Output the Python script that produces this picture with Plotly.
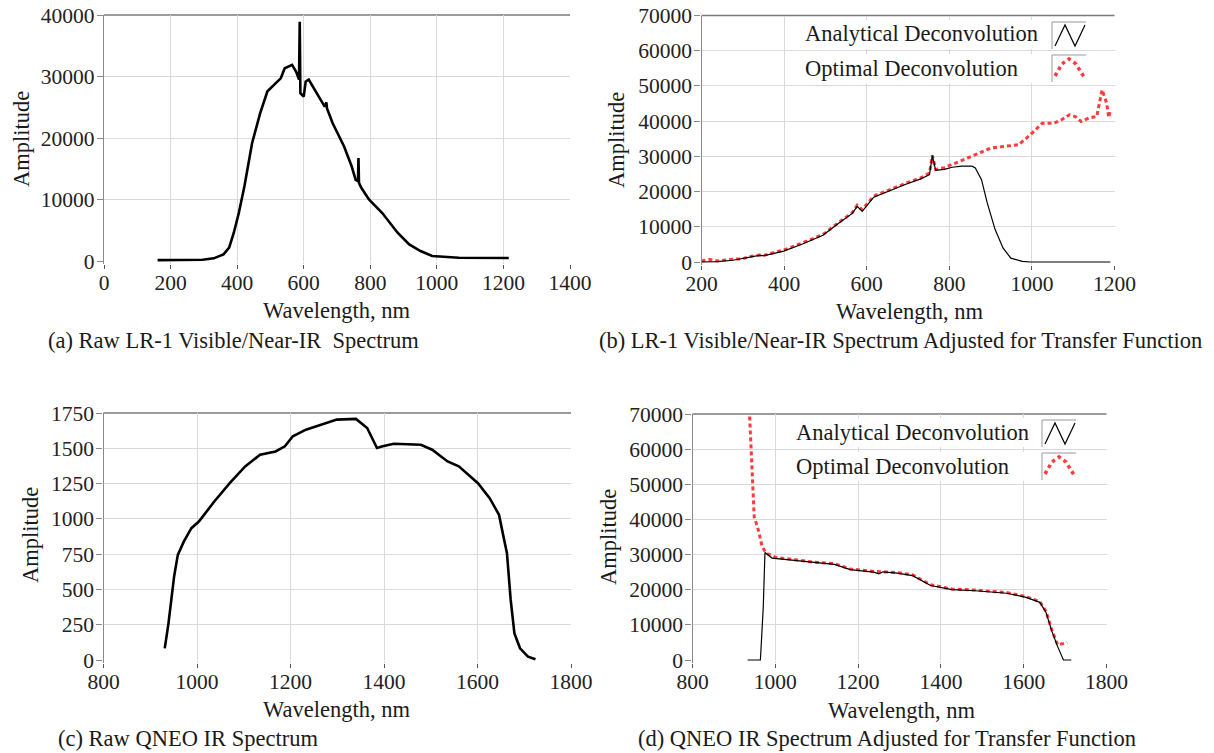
import plotly.graph_objects as go

# ---------------- data ----------------
# (a) Raw LR-1 Visible/Near-IR spectrum
a_wl = [161, 296, 330, 359, 376, 390, 405, 422, 445, 469, 491, 514, 531, 543, 565, 577, 586,
        588, 590, 600, 606, 615, 640, 663, 668, 670, 687, 721, 744, 756, 763, 764.5, 766, 773,
        796, 836, 882, 917, 951, 986, 1020, 1066, 1216]
a_amp = [150, 200, 430, 1080, 2160, 4600, 7800, 12200, 19200, 24000, 27600, 28900, 29700, 31350,
         31900, 30800, 29500, 38900, 27300, 26750, 29200, 29500, 27300, 25100, 25800, 24800, 22400,
         18650, 15400, 13200, 13000, 16750, 12700, 11900, 10000, 7800, 4600, 2700, 1620, 810, 700,
         540, 490]

# (b) LR-1 adjusted for transfer function
b_an_wl = [200, 238, 276, 314, 340, 352, 399, 446, 494, 532, 565, 577, 589, 617, 655, 693, 731,
           752, 759, 767, 788, 807, 830, 855, 863, 878, 892, 911, 930, 949, 977, 996, 1190]
b_an_amp = [0, 100, 500, 1300, 1900, 1800, 3100, 5200, 7600, 11000, 13800, 15800, 14400, 18400,
            20300, 22000, 23600, 24800, 30200, 26000, 26300, 26900, 27200, 27200, 26700, 23400,
            16700, 9200, 4000, 1100, 200, 0, 0]
b_op_wl = [200, 220, 238, 260, 276, 300, 314, 340, 352, 370, 399, 446, 494, 532, 565, 577, 589,
           617, 655, 693, 731, 752, 759, 767, 788, 807, 854, 901, 968, 996, 1025, 1053, 1072,
           1091, 1105, 1119, 1138, 1157, 1170, 1181, 1186, 1190]
b_op_amp = [300, 700, 300, 600, 800, 900, 1500, 2000, 1900, 2500, 3400, 5500, 7800, 11200, 14000,
            16100, 14900, 18700, 20600, 22300, 23900, 25300, 30300, 26300, 26800, 27700, 30000,
            32400, 33300, 36100, 39400, 39400, 40400, 41800, 41300, 39900, 40900, 41300, 48900,
            45100, 41000, 43200]

# (c) Raw QNEO IR spectrum
c_wl = [931, 939, 951, 959, 972, 988, 1004, 1037, 1070, 1103, 1135, 1168, 1188, 1205, 1233, 1266,
        1299, 1340, 1364, 1385, 1397, 1421, 1479, 1503, 1536, 1560, 1601, 1626, 1646, 1654, 1663,
        1671, 1679, 1691, 1708, 1724]
c_amp = [83, 260, 591, 745, 840, 934, 981, 1123, 1253, 1372, 1454, 1478, 1514, 1585, 1632, 1667,
         1703, 1708, 1644, 1502, 1514, 1532, 1525, 1490, 1407, 1372, 1253, 1147, 1029, 899, 757,
         426, 189, 83, 24, 5]

# (d) QNEO IR adjusted for transfer function
d_an_wl = [933, 964, 971, 975, 992, 1049, 1096, 1143, 1181, 1238, 1250, 1260, 1294, 1332, 1375,
           1427, 1483, 1559, 1606, 1639, 1654, 1668, 1682, 1696, 1715]
d_an_amp = [0, 0, 15200, 30600, 29000, 28300, 27600, 27200, 25700, 25000, 24500, 25100, 24700,
            24000, 21200, 20000, 19700, 19000, 17800, 16400, 13500, 8200, 3800, 0, 0]
d_op_wl = [938, 945, 949, 959, 968, 978, 1001, 1049, 1096, 1143, 1181, 1238, 1294, 1332, 1375,
           1427, 1483, 1559, 1606, 1639, 1654, 1668, 1682, 1696, 1705]
d_op_amp = [69300, 53200, 40800, 37000, 32300, 30400, 29200, 28500, 27800, 27400, 25900, 25200,
            24900, 24200, 21400, 20200, 19900, 19200, 18000, 16600, 13800, 8500, 4300, 4700, 5000]

captions = ["(a) Raw LR-1 Visible/Near-IR  Spectrum",
            "(b) LR-1 Visible/Near-IR Spectrum Adjusted for Transfer Function",
            "(c) Raw QNEO IR Spectrum",
            "(d) QNEO IR Spectrum Adjusted for Transfer Function"]
legend_names = ["Analytical Deconvolution", "Optimal Deconvolution"]

# ---------------- layout helpers ----------------
W, H = 1214, 753
FONT = "Liberation Serif, Times New Roman, serif"
RED = "#ff3b3b"


def px(x):
    return x / W


def py(y):
    return 1 - y / H


fig = go.Figure()

panels = [
    dict(k="", xd=(104, 570), yd=(15, 264), xr=[0, 1400], yr=[-488, 40000],
         xt=list(range(0, 1401, 200)), yt=list(range(0, 40001, 10000))),
    dict(k="2", xd=(701.5, 1114.5), yd=(15.5, 265), xr=[200, 1200], yr=[-852, 70000],
         xt=list(range(200, 1201, 200)), yt=list(range(0, 70001, 10000))),
    dict(k="3", xd=(103.5, 571), yd=(413, 663), xr=[800, 1800], yr=[-21, 1750],
         xt=list(range(800, 1801, 200)), yt=list(range(0, 1751, 250))),
    dict(k="4", xd=(692.5, 1106.5), yd=(414, 663), xr=[800, 1800], yr=[-854, 70000],
         xt=list(range(800, 1801, 200)), yt=list(range(0, 70001, 10000))),
]

for p in panels:
    k = p["k"]
    xa = dict(domain=[px(p["xd"][0]), px(p["xd"][1])], range=p["xr"], anchor="y" + k,
              tickvals=p["xt"], tickformat="d", ticks="outside", ticklen=4, tickcolor="#555",
              tickwidth=1, automargin=False, ticklabelstandoff=-5,
              showline=False, showgrid=True, gridcolor="#d9d9d9", gridwidth=1, zeroline=False,
              tickfont=dict(family=FONT, size=21.5, color="#222"), fixedrange=True)
    ya = dict(domain=[py(p["yd"][1]), py(p["yd"][0])], range=p["yr"], anchor="x" + k,
              tickvals=p["yt"], tickformat="d", ticks="outside", ticklen=6, tickcolor="#888",
              tickwidth=1, automargin=False, ticklabelstandoff=-2,
              showline=True, linecolor="#8a8a8a", linewidth=1.2,
              showgrid=True, gridcolor="#d9d9d9", gridwidth=1,
              zeroline=True, zerolinecolor="white", zerolinewidth=1,
              tickfont=dict(family=FONT, size=21.5, color="#222"), fixedrange=True)
    fig.update_layout(**{"xaxis" + k: xa, "yaxis" + k: ya})
    fig.add_shape(type="line", xref="x" + k + " domain", yref="y" + k + " domain",
                  x0=0, x1=1, y0=1, y1=1, line=dict(color="#7a7a7a", width=1.5), layer="below")

fig.add_trace(go.Scatter(x=a_wl, y=a_amp, mode="lines", line=dict(color="black", width=2.6),
                         xaxis="x", yaxis="y", showlegend=False))
fig.add_trace(go.Scatter(x=b_op_wl, y=b_op_amp, mode="lines",
                         line=dict(color=RED, width=3, dash="4px,3px"),
                         xaxis="x2", yaxis="y2", showlegend=False))
fig.add_trace(go.Scatter(x=b_an_wl, y=b_an_amp, mode="lines", line=dict(color="black", width=1.2),
                         xaxis="x2", yaxis="y2", showlegend=False))
fig.add_trace(go.Scatter(x=c_wl, y=c_amp, mode="lines", line=dict(color="black", width=2.6),
                         xaxis="x3", yaxis="y3", showlegend=False))
fig.add_trace(go.Scatter(x=d_op_wl, y=d_op_amp, mode="lines",
                         line=dict(color=RED, width=3, dash="4px,3px"),
                         xaxis="x4", yaxis="y4", showlegend=False))
fig.add_trace(go.Scatter(x=d_an_wl, y=d_an_amp, mode="lines", line=dict(color="black", width=1.2),
                         xaxis="x4", yaxis="y4", showlegend=False))

ann = []
txt = dict(family=FONT, size=22.5, color="#1a1a1a")
for (ax, ay) in [(21, 139), (616, 140), (30, 535), (608, 537)]:
    ann.append(dict(x=px(ax), y=py(ay), xref="paper", yref="paper", text="Amplitude",
                    textangle=-90, showarrow=False, font=txt, xanchor="center", yanchor="middle"))
for (ax, ay) in [(337, 310), (910, 311), (337, 709), (901, 710)]:
    ann.append(dict(x=px(ax), y=py(ay), xref="paper", yref="paper", text="Wavelength, nm",
                    showarrow=False, font=txt, xanchor="center", yanchor="middle"))
for (cx, cy), t in zip([(46, 340), (597, 340), (56, 738), (636, 738)], captions):
    ann.append(dict(x=px(cx), y=py(cy), xref="paper", yref="paper", text=t.replace("  ", "&nbsp; "),
                    showarrow=False, font=dict(family=FONT, size=22.5, color="#1a1a1a"),
                    xanchor="left", yanchor="middle"))

shapes = []
for (lx, r1, r2, ix, iy1, iy2) in [(803, 34, 68, 1052, 22, 55), (794, 432, 466, 1042, 420, 453)]:
    for ry, name in zip((r1, r2), legend_names):
        shapes.append(dict(type="rect", xref="paper", yref="paper", x0=px(lx - 6), x1=px(ix + 36),
                           y0=py(ry - 14), y1=py(ry + 15), fillcolor="white",
                           line=dict(width=0), layer="above"))
        ann.append(dict(x=px(lx), y=py(ry), xref="paper", yref="paper", text=name,
                        showarrow=False, font=txt, xanchor="left", yanchor="middle"))
    for by in (iy1, iy2):
        shapes.append(dict(type="path", xref="paper", yref="paper",
                           path=f"M {px(ix)},{py(by + 27)} L {px(ix)},{py(by)} L {px(ix + 34)},{py(by)}",
                           line=dict(color="#999", width=1), layer="above"))
    zz = [(ix + 3, iy1 + 24), (ix + 13, iy1 + 3), (ix + 23, iy1 + 24), (ix + 33, iy1 + 3)]
    shapes.append(dict(type="path", xref="paper", yref="paper",
                       path="M " + " L ".join(f"{px(a)},{py(b)}" for a, b in zz),
                       line=dict(color="black", width=1.2), layer="above"))
    arc = [(ix + 3, iy2 + 21), (ix + 10, iy2 + 9), (ix + 17, iy2 + 4), (ix + 24, iy2 + 9), (ix + 32, iy2 + 22)]
    shapes.append(dict(type="path", xref="paper", yref="paper",
                       path="M " + " L ".join(f"{px(a)},{py(b)}" for a, b in arc),
                       line=dict(color=RED, width=3.5, dash="dot"), layer="above"))

fig.update_layout(width=W, height=H, autosize=False, margin=dict(l=0, r=0, t=0, b=0, pad=0),
                  plot_bgcolor="white", paper_bgcolor="white", showlegend=False,
                  annotations=ann, font=dict(family=FONT))
for s in shapes:
    fig.add_shape(**s)

fig.write_html("out.html", config={"displayModeBar": False})
